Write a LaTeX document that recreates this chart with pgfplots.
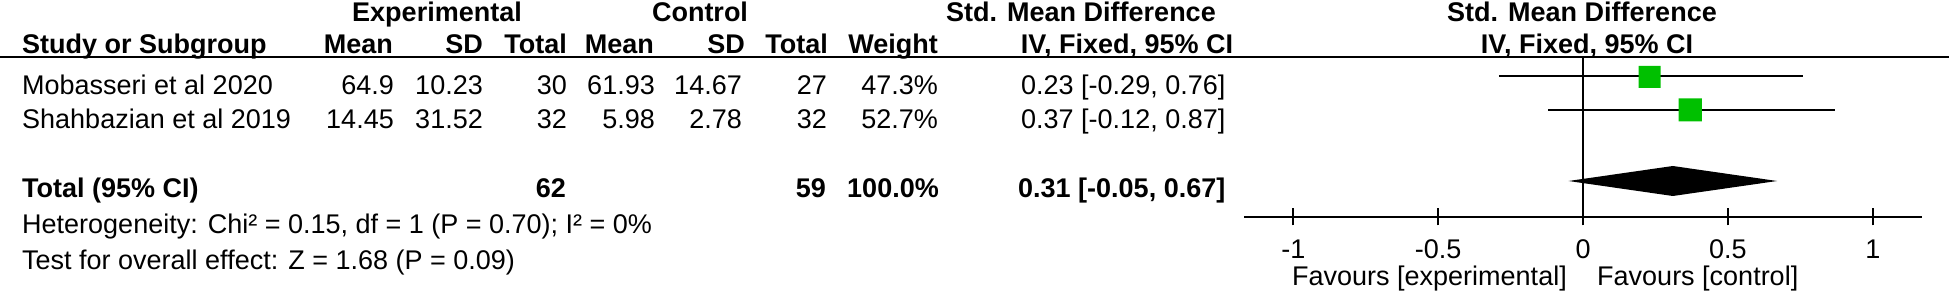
\documentclass[border=0pt]{standalone}
\usepackage{pgfplots}
\pgfplotsset{compat=1.18}
\usepackage{fontspec}
\setmainfont{Liberation Sans}
\definecolor{sqgreen}{RGB}{0,192,0}
\newcommand{\fs}{\fontsize{27pt}{30pt}\selectfont}
\begin{document}
\begin{tikzpicture}[x=1pt,y=1pt,every node/.style={font=\fs,inner sep=0pt,text=black}]
\path[use as bounding box] (0,0) rectangle (1949,292);
\begin{axis}[at={(1244pt,75pt)}, anchor=south west, scale only axis,
  width=678pt, height=160pt, xmin=-1.17, xmax=1.17, ymin=0, ymax=160,
  axis x line*=bottom, axis y line=none,
  axis line style={line width=2pt,-},
  xtick={-1,-0.5,0,0.5,1}, xticklabels={{-1},{-0.5},{0},{0.5},{1}},
  major tick length=17pt, tick align=center, tick style={line width=2pt,black},
  xticklabel style={font=\fs, anchor=base, yshift=-33pt, inner sep=0pt},
  clip=false]
\addplot[black, line width=2pt] coordinates {(0,0) (0,160)};
\addplot[black, line width=2pt] coordinates {(-0.29,141) (0.76,141)};
\addplot[black, line width=2pt] coordinates {(-0.12,107) (0.87,107)};
\addplot[draw=none, fill=sqgreen] coordinates {(0.192,129) (0.268,129) (0.268,151) (0.192,151) (0.192,129)};
\addplot[draw=none, fill=sqgreen] coordinates {(0.330,95.5) (0.410,95.5) (0.410,118.5) (0.330,118.5) (0.330,95.5)};
\addplot[draw=none, fill=black] coordinates {(-0.05,36) (0.31,51) (0.67,36) (0.31,21) (-0.05,36)};
\end{axis}
\draw[line width=2pt] (0,234.5) -- (1949,234.5);
% header 1
\node[anchor=base] at (437,270) {\bfseries Experimental};
\node[anchor=base] at (700,270) {\bfseries Control};
\node[anchor=base] at (1081,270) {\bfseries Std. Mean Difference};
\node[anchor=base] at (1582,270) {\bfseries Std. Mean Difference};
% header 2
\node[anchor=base west] at (22,238) {\bfseries Study or Subgroup};
\node[anchor=base east] at (393,238) {\bfseries Mean};
\node[anchor=base east] at (483,238) {\bfseries SD};
\node[anchor=base east] at (567,238) {\bfseries Total};
\node[anchor=base east] at (654,238) {\bfseries Mean};
\node[anchor=base east] at (745,238) {\bfseries SD};
\node[anchor=base east] at (828,238) {\bfseries Total};
\node[anchor=base east] at (938,238) {\bfseries Weight};
\node[anchor=base] at (1127,238) {\bfseries IV, Fixed, 95\% CI};
\node[anchor=base] at (1587,238) {\bfseries IV, Fixed, 95\% CI};
% row 1
\node[anchor=base west] at (22,197) {Mobasseri et al 2020};
\node[anchor=base east] at (394,197) {64.9};
\node[anchor=base east] at (483,197) {10.23};
\node[anchor=base east] at (567,197) {30};
\node[anchor=base east] at (655,197) {61.93};
\node[anchor=base east] at (742,197) {14.67};
\node[anchor=base east] at (827,197) {27};
\node[anchor=base east] at (938,197) {47.3\%};
\node[anchor=base west] at (1021,197) {0.23 [-0.29, 0.76]};
% row 2
\node[anchor=base west] at (22,163) {Shahbazian et al 2019};
\node[anchor=base east] at (394,163) {14.45};
\node[anchor=base east] at (483,163) {31.52};
\node[anchor=base east] at (567,163) {32};
\node[anchor=base east] at (655,163) {5.98};
\node[anchor=base east] at (742,163) {2.78};
\node[anchor=base east] at (827,163) {32};
\node[anchor=base east] at (938,163) {52.7\%};
\node[anchor=base west] at (1021,163) {0.37 [-0.12, 0.87]};
% total
\node[anchor=base west] at (22,94) {\bfseries Total (95\% CI)};
\node[anchor=base east] at (566,94) {\bfseries 62};
\node[anchor=base east] at (826,94) {\bfseries 59};
\node[anchor=base east] at (939,94) {\bfseries 100.0\%};
\node[anchor=base west] at (1018,94) {\bfseries 0.31 [-0.05, 0.67]};
% footnotes
\node[anchor=base west] at (22,59) {Heterogeneity: Chi² = 0.15, df = 1 (P = 0.70); I² = 0\%};
\node[anchor=base west] at (22,23) {Test for overall effect: Z = 1.68 (P = 0.09)};
% favours
\node[anchor=base east] at (1567,7) {Favours [experimental]};
\node[anchor=base west] at (1597,7) {Favours [control]};
\end{tikzpicture}
\end{document}
